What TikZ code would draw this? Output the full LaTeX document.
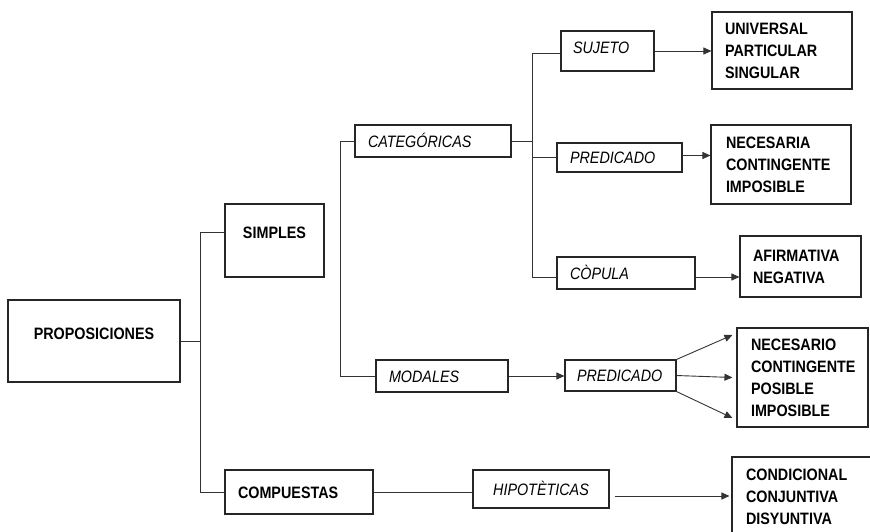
\documentclass[tikz,border=0pt]{standalone}
\usepackage{fontspec}
\setmainfont{Liberation Sans}[FakeStretch=0.87]
\usetikzlibrary{arrows.meta}

\begin{document}
\begin{tikzpicture}[x=1pt, y=-1pt,
  box/.style={draw=black!85, line width=1.1pt, rectangle, inner sep=0pt},
  head/.style={box, font=\fontsize{16.5}{22}\selectfont\bfseries, text height=12pt, text depth=0pt},
  tag/.style={box, font=\fontsize{16.5}{22}\selectfont\itshape, align=left, text height=12pt, text depth=0pt},
  list/.style={box, font=\fontsize{16.5}{22}\selectfont\bfseries, align=left},
  link/.style={draw=black!80, line width=0.9pt},
  arr/.style={link, -{Triangle[length=8pt,width=7pt]}}]

  \clip (0,0) rectangle (870,531);

  % first level
  \node [head, minimum width=172pt, minimum height=82pt, text depth=16pt](prop) at (94,341) {PROPOSICIONES};
  \node [head, minimum width=99pt, minimum height=73pt, text depth=17pt](simples) at (274.5,240.5) {SIMPLES};
  \node [head, align=left, text width=122pt, inner xsep=13pt, minimum height=44pt](compuestas) at (299,492) {COMPUESTAS};

  % italic tags
  \node [tag, text width=130pt, inner xsep=13pt, minimum height=32pt](catego) at (433,141) {CATEGÓRICAS};
  \node [tag, text width=69pt, inner xsep=12pt, minimum height=40pt, text depth=8pt](sujeto) at (607.5,51) {SUJETO};
  \node [tag, text width=99pt, inner xsep=13pt, minimum height=29pt](pred) at (619.5,157.5) {PREDICADO};
  \node [tag, text width=112pt, inner xsep=13pt, minimum height=32pt](copula) at (626,273) {CÒPULA};
  \node [tag, text width=106pt, inner xsep=13pt, minimum height=32pt](modales) at (442,376) {MODALES};
  \node [tag, text width=87pt, inner xsep=12pt, minimum height=31pt](predmod) at (620.5,375.5) {PREDICADO};
  \node [tag, align=center, minimum width=136pt, minimum height=38pt](hipot) at (541,489) {HIPOTÈTICAS};

  % lists on the right
  \node [list, text width=114pt, inner xsep=13pt, minimum height=77pt](univ) at (782,50.5) {UNIVERSAL\\PARTICULAR\\SINGULAR};
  \node [list, text width=110pt, inner xsep=15pt, minimum height=79pt](necesaria) at (781,164.5) {NECESARIA\\CONTINGENTE\\IMPOSIBLE};
  \node [list, text width=95pt, inner xsep=13pt, minimum height=61pt](afirm) at (800.5,266.5) {AFIRMATIVA\\NEGATIVA};
  \node [list, text width=103pt, inner xsep=14pt, minimum height=99pt](necesario) at (802.5,377.5) {NECESARIO\\CONTINGENTE\\POSIBLE\\IMPOSIBLE};
  \node [list, text width=112pt, inner xsep=14pt, minimum height=80pt](condic) at (802,497) {CONDICIONAL\\CONJUNTIVA\\DISYUNTIVA};

  \coordinate (b1) at (200,0);
  \coordinate (b2) at (340,0);
  \coordinate (b3) at (532,0);
  \coordinate (hout) at ([shift={(5pt,-7pt)}]hipot.east);

  % brackets
  \draw [link] (prop.east) -- (prop.east -| b1);
  \draw [link] ([yshift=8.5pt]simples.west) -| (b1 |- compuestas.west) -- (compuestas.west);
  \draw [link] (catego.west) -| (b2 |- modales.west) -- (modales.west);
  \draw [link] (catego.east) -- (catego.east -| b3);
  \draw [link] ([yshift=-2pt]sujeto.west) -| ([yshift=-4pt]b3 |- copula.west) -- ([yshift=-4pt]copula.west);
  \draw [link] (b3 |- pred.west) -- (pred.west);
  \draw [link] (compuestas.east) -- (compuestas.east -| hipot.west);

  % arrows
  \draw [arr] (sujeto.east) -- (sujeto.east -| univ.west);
  \draw [arr] ([yshift=2pt]pred.east) -- ([yshift=2pt]pred.east -| necesaria.west);
  \draw [arr] ([yshift=-4pt]copula.east) -- ([yshift=-4pt]copula.east -| afirm.west);
  \draw [arr] (modales.east) -- (modales.east -| predmod.west);
  \draw [arr] (predmod.north east) -- ([shift={(-4pt,42.5pt)}]necesario.west);
  \draw [arr] (predmod.east) -- ([xshift=-4pt]necesario.west);
  \draw [arr] (predmod.south east) -- ([shift={(-4pt,-40.5pt)}]necesario.west);
  \draw [arr] (hout) -- ([xshift=-2pt]hout -| condic.west);
\end{tikzpicture}
\end{document}
